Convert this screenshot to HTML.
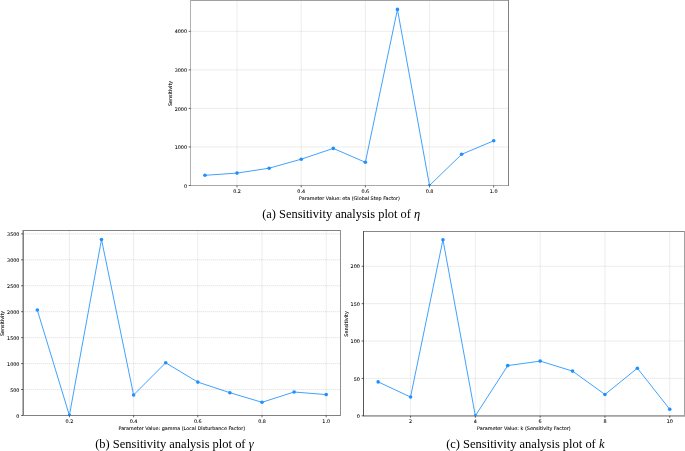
<!DOCTYPE html>
<html lang="en">
<head>
<meta charset="utf-8">
<title>Sensitivity analysis plots</title>
<style>
html,body{margin:0;padding:0;background:#fff;}
body{width:685px;height:451px;overflow:hidden;position:relative;}
svg{position:absolute;left:0;top:0;display:block;}
.grid{fill:none;stroke:#a8a8a8;stroke-width:.5;stroke-dasharray:1.3 .7;stroke-opacity:.65;}
.ln{fill:none;stroke:#1e90ff;stroke-width:.85;stroke-linejoin:round;}
.mk{fill:#1e90ff;}
.sp{fill:none;stroke:#000;stroke-width:.55;stroke-opacity:.8;}
.tk{fill:none;stroke:#000;stroke-width:.6;}
.tl{font-family:"DejaVu Sans","Liberation Sans",sans-serif;fill:#000;stroke:#000;stroke-width:.07;}
.cap{font-family:"Liberation Serif","DejaVu Serif",serif;font-size:12.4px;fill:#000;}
.cap tspan{font-style:italic;}
</style>
</head>
<body>
<svg width="685" height="451" viewBox="0 0 685 451">
<rect width="685" height="451" fill="#fff"/>
<g id="pa">
<clipPath id="cpa"><rect x="190.6" y="0.4" width="317.8" height="185.1"/></clipPath>
<path d="M237.03 0.4V185.5M301.2 0.4V185.5M365.37 0.4V185.5M429.53 0.4V185.5M493.7 0.4V185.5M190.6 146.95H508.4M190.6 108.4H508.4M190.6 69.85H508.4M190.6 31.3H508.4" class="grid"/>
<g shape-rendering="crispEdges">
<rect x="190" y="0" width="319" height="1" fill="#a0a0a0"/>
<rect x="190" y="185" width="319" height="1" fill="#a8a8a8"/>
<rect x="190" y="0" width="1" height="186" fill="#b0b0b0"/>
<rect x="508" y="0" width="1" height="186" fill="#808080"/>
</g>
<g clip-path="url(#cpa)"><path d="M204.95 175.3L237.03 173.1L269.12 168.2L301.2 159.2L333.28 148.4L365.37 162.3L397.45 9.4L429.53 185.5L461.62 154.3L493.7 140.8" class="ln"/>
<circle cx="204.95" cy="175.3" r="1.8" class="mk"/>
<circle cx="237.03" cy="173.1" r="1.8" class="mk"/>
<circle cx="269.12" cy="168.2" r="1.8" class="mk"/>
<circle cx="301.2" cy="159.2" r="1.8" class="mk"/>
<circle cx="333.28" cy="148.4" r="1.8" class="mk"/>
<circle cx="365.37" cy="162.3" r="1.8" class="mk"/>
<circle cx="397.45" cy="9.4" r="1.8" class="mk"/>
<circle cx="429.53" cy="185.5" r="1.8" class="mk"/>
<circle cx="461.62" cy="154.3" r="1.8" class="mk"/>
<circle cx="493.7" cy="140.8" r="1.8" class="mk"/>
</g>
<path d="M237.03 185.5v1.9M301.2 185.5v1.9M365.37 185.5v1.9M429.53 185.5v1.9M493.7 185.5v1.9M190.6 185.5h-1.9M190.6 146.95h-1.9M190.6 108.4h-1.9M190.6 69.85h-1.9M190.6 31.3h-1.9" class="tk"/>
<g class="tl" font-size="4.85">
<text x="237.03" y="192.7" text-anchor="middle">0.2</text>
<text x="301.2" y="192.7" text-anchor="middle">0.4</text>
<text x="365.37" y="192.7" text-anchor="middle">0.6</text>
<text x="429.53" y="192.7" text-anchor="middle">0.8</text>
<text x="493.7" y="192.7" text-anchor="middle">1.0</text>
<text x="187" y="187.63" text-anchor="end">0</text>
<text x="187" y="149.08" text-anchor="end">1000</text>
<text x="187" y="110.53" text-anchor="end">2000</text>
<text x="187" y="71.98" text-anchor="end">3000</text>
<text x="187" y="33.43" text-anchor="end">4000</text>
<text x="349.5" y="199.7" text-anchor="middle">Parameter Value: eta (Global Step Factor)</text>
<text transform="translate(172.45 93.45) rotate(-90)" text-anchor="middle">Sensitivity</text>
</g>
</g>
<g id="pb">
<clipPath id="cpb"><rect x="23" y="230.5" width="317.7" height="184.9"/></clipPath>
<path d="M69.4 230.5V415.4M133.6 230.5V415.4M197.8 230.5V415.4M262 230.5V415.4M326.2 230.5V415.4M23 389.51H340.7M23 363.57H340.7M23 337.63H340.7M23 311.69H340.7M23 285.75H340.7M23 259.81H340.7M23 233.87H340.7" class="grid"/>
<g shape-rendering="crispEdges">
<rect x="22" y="230" width="319" height="1" fill="#808080"/>
<rect x="22" y="415" width="319" height="1" fill="#808080"/>
<rect x="22" y="230" width="1" height="186" fill="#b8b8b8"/>
<rect x="23" y="230" width="1" height="186" fill="#808080"/>
<rect x="340" y="230" width="1" height="186" fill="#909090"/>
</g>
<g clip-path="url(#cpb)"><path d="M37.3 310L69.4 415.4L101.5 239.5L133.6 394.95L165.7 362.8L197.8 382.1L229.9 392.7L262 402.3L294.1 392L326.2 394.6" class="ln"/>
<circle cx="37.3" cy="310" r="1.8" class="mk"/>
<circle cx="69.4" cy="415.4" r="1.8" class="mk"/>
<circle cx="101.5" cy="239.5" r="1.8" class="mk"/>
<circle cx="133.6" cy="394.95" r="1.8" class="mk"/>
<circle cx="165.7" cy="362.8" r="1.8" class="mk"/>
<circle cx="197.8" cy="382.1" r="1.8" class="mk"/>
<circle cx="229.9" cy="392.7" r="1.8" class="mk"/>
<circle cx="262" cy="402.3" r="1.8" class="mk"/>
<circle cx="294.1" cy="392" r="1.8" class="mk"/>
<circle cx="326.2" cy="394.6" r="1.8" class="mk"/>
</g>
<path d="M69.4 415.4v1.9M133.6 415.4v1.9M197.8 415.4v1.9M262 415.4v1.9M326.2 415.4v1.9M23 415.45h-1.9M23 389.51h-1.9M23 363.57h-1.9M23 337.63h-1.9M23 311.69h-1.9M23 285.75h-1.9M23 259.81h-1.9M23 233.87h-1.9" class="tk"/>
<g class="tl" font-size="4.85">
<text x="69.4" y="422.6" text-anchor="middle">0.2</text>
<text x="133.6" y="422.6" text-anchor="middle">0.4</text>
<text x="197.8" y="422.6" text-anchor="middle">0.6</text>
<text x="262" y="422.6" text-anchor="middle">0.8</text>
<text x="326.2" y="422.6" text-anchor="middle">1.0</text>
<text x="19.4" y="417.58" text-anchor="end">0</text>
<text x="19.4" y="391.64" text-anchor="end">500</text>
<text x="19.4" y="365.7" text-anchor="end">1000</text>
<text x="19.4" y="339.76" text-anchor="end">1500</text>
<text x="19.4" y="313.82" text-anchor="end">2000</text>
<text x="19.4" y="287.88" text-anchor="end">2500</text>
<text x="19.4" y="261.94" text-anchor="end">3000</text>
<text x="19.4" y="236" text-anchor="end">3500</text>
<text x="181.85" y="429.6" text-anchor="middle">Parameter Value: gamma (Local Disturbance Factor)</text>
<text transform="translate(3.8 323.45) rotate(-90)" text-anchor="middle">Sensitivity</text>
</g>
</g>
<g id="pc">
<clipPath id="cpc"><rect x="363.5" y="231.1" width="320.7" height="184.7"/></clipPath>
<path d="M410.55 231.1V415.8M475.35 231.1V415.8M540.15 231.1V415.8M604.95 231.1V415.8M669.75 231.1V415.8M363.5 378.42H684.2M363.5 341.04H684.2M363.5 303.66H684.2M363.5 266.28H684.2" class="grid"/>
<g shape-rendering="crispEdges">
<rect x="363" y="231" width="322" height="1" fill="#888888"/>
<rect x="363" y="415" width="322" height="1" fill="#a4a4a4"/>
<rect x="363" y="416" width="322" height="1" fill="#b8b8b8"/>
<rect x="363" y="231" width="1" height="185" fill="#555555"/>
<rect x="684" y="231" width="1" height="185" fill="#a0a0a0"/>
</g>
<g clip-path="url(#cpc)"><path d="M378.15 381.9L410.55 397L442.95 239.7L475.35 415.8L507.75 365.6L540.15 361.1L572.55 371.1L604.95 394.5L637.35 368.2L669.75 409.3" class="ln"/>
<circle cx="378.15" cy="381.9" r="1.8" class="mk"/>
<circle cx="410.55" cy="397" r="1.8" class="mk"/>
<circle cx="442.95" cy="239.7" r="1.8" class="mk"/>
<circle cx="475.35" cy="415.8" r="1.8" class="mk"/>
<circle cx="507.75" cy="365.6" r="1.8" class="mk"/>
<circle cx="540.15" cy="361.1" r="1.8" class="mk"/>
<circle cx="572.55" cy="371.1" r="1.8" class="mk"/>
<circle cx="604.95" cy="394.5" r="1.8" class="mk"/>
<circle cx="637.35" cy="368.2" r="1.8" class="mk"/>
<circle cx="669.75" cy="409.3" r="1.8" class="mk"/>
</g>
<path d="M410.55 415.8v1.9M475.35 415.8v1.9M540.15 415.8v1.9M604.95 415.8v1.9M669.75 415.8v1.9M363.5 415.8h-1.9M363.5 378.42h-1.9M363.5 341.04h-1.9M363.5 303.66h-1.9M363.5 266.28h-1.9" class="tk"/>
<g class="tl" font-size="4.9">
<text x="410.55" y="423" text-anchor="middle">2</text>
<text x="475.35" y="423" text-anchor="middle">4</text>
<text x="540.15" y="423" text-anchor="middle">6</text>
<text x="604.95" y="423" text-anchor="middle">8</text>
<text x="669.75" y="423" text-anchor="middle">10</text>
<text x="359.9" y="417.96" text-anchor="end">0</text>
<text x="359.9" y="380.58" text-anchor="end">50</text>
<text x="359.9" y="343.2" text-anchor="end">100</text>
<text x="359.9" y="305.82" text-anchor="end">150</text>
<text x="359.9" y="268.44" text-anchor="end">200</text>
<text x="523.85" y="430" text-anchor="middle">Parameter Value: k (Sensitivity Factor)</text>
<text transform="translate(348.3 323.95) rotate(-90)" text-anchor="middle">Sensitivity</text>
</g>
</g>
<text class="cap" x="341.2" y="218.05" text-anchor="middle">(a) Sensitivity analysis plot of <tspan>η</tspan></text>
<text class="cap" style="font-size:12.47px" x="174.4" y="448.05" text-anchor="middle">(b) Sensitivity analysis plot of <tspan>γ</tspan></text>
<text class="cap" style="font-size:12.47px" x="525.3" y="448.05" text-anchor="middle">(c) Sensitivity analysis plot of <tspan>k</tspan></text>
</svg>
</body>
</html>
